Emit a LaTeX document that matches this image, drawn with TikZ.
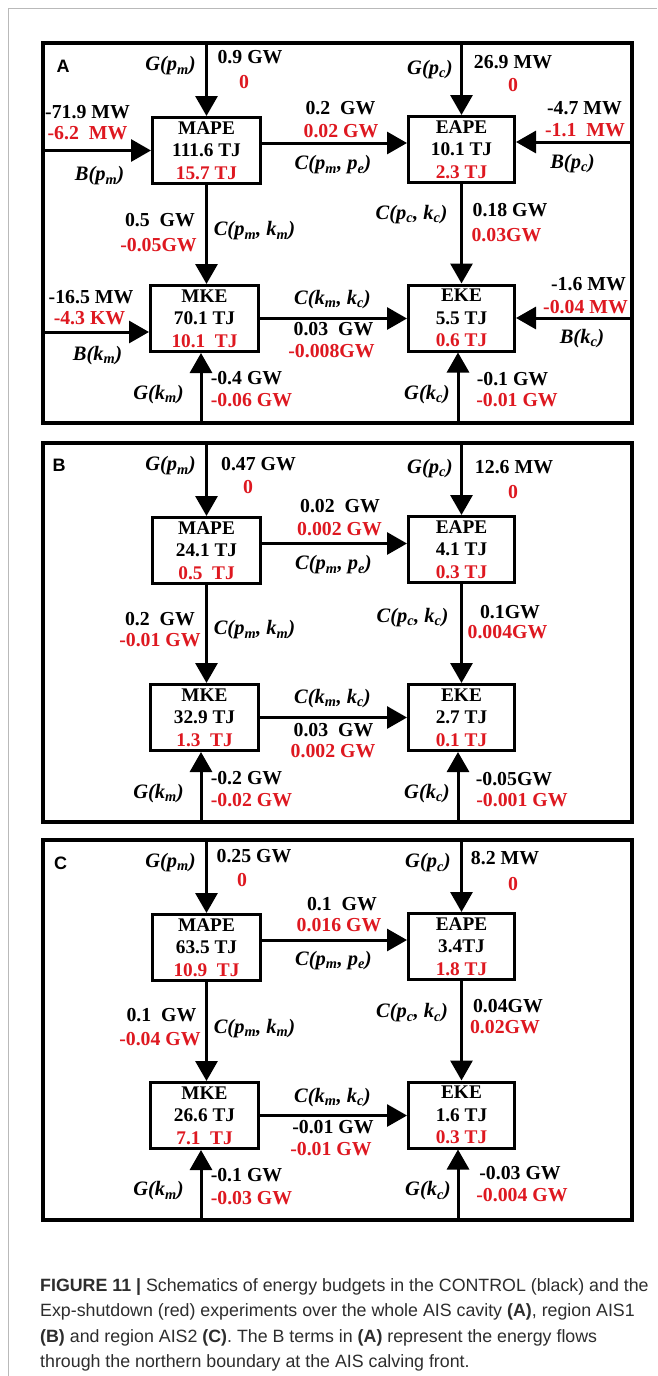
\documentclass[tikz,border=0pt]{standalone}
\usepackage{fontspec}
\setmainfont{Liberation Serif}
\newfontfamily\capsans{Liberation Sans}
\usetikzlibrary{arrows.meta}
\definecolor{myred}{RGB}{222,24,32}
\definecolor{capgray}{RGB}{45,45,45}
\newcommand\sbs[1]{\textsubscript{#1}}
\begin{document}
\begin{tikzpicture}[x=1pt,y=-1pt,
  frame/.style={line width=4pt},
  conn/.style={line width=3pt,-{Triangle[length=20pt,width=22pt]}},
  ebox/.style={draw,line width=3pt,minimum width=108pt,minimum height=66pt,align=center,inner sep=0pt,
     font=\bfseries\fontsize{19.3}{22.5}\selectfont},
  lbl/.style={font=\bfseries\fontsize{19.8}{22}\selectfont,inner sep=0pt},
  rl/.style={lbl,text=myred},
  ital/.style={font=\bfseries\itshape\fontsize{20.5}{22}\selectfont,inner sep=0pt},
  plab/.style={font=\capsans\bfseries\fontsize{18}{20}\selectfont,inner sep=0pt},
  captxt/.style={font=\capsans\fontsize{17.8}{20}\selectfont,text=capgray,inner sep=0pt,anchor=base west}]
\useasboundingbox (0,0) rectangle (657,1376);
\fill[white] (0,0) rectangle (657,1376);
\draw[gray!55,line width=1pt] (8,1376) -- (8,8) -- (657,8);

% ---------------- Panel A ----------------
\begin{scope}[shift={(0,43)}]
\draw[frame] (43,0) rectangle (632,380);
\coordinate (aT) at (43,0);
\coordinate (aB) at (43,380);
\coordinate (aL) at (43,0);
\coordinate (aR) at (632,0);
\node[ebox,minimum width=108pt] (aMAPE) at (206.5,107.5) {MAPE\\111.6 TJ\\\textcolor{myred}{15.7 TJ}};
\node[ebox,minimum width=106pt] (aEAPE) at (461.5,106.5) {EAPE\\10.1 TJ\\\textcolor{myred}{2.3 TJ}};
\node[ebox,minimum width=108pt] (aMKE) at (204.5,275.5) {MKE\\70.1 TJ\\\textcolor{myred}{10.1\ \ TJ}};
\node[ebox,minimum width=106pt] (aEKE) at (461.5,275) {EKE\\5.5 TJ\\\textcolor{myred}{0.6 TJ}};
\coordinate (aEin) at ([yshift=7.5pt]aEAPE.east);
\coordinate (aKin) at ([yshift=-13.5pt]aMKE.west);
\draw[conn] (aMAPE.north |- aT) -- (aMAPE.north);
\draw[conn] (aEAPE.north |- aT) -- (aEAPE.north);
\draw[conn] (aMAPE.south) -- (aMAPE.south |- aMKE.north);
\draw[conn] (aEAPE.south) -- (aEKE.north);
\draw[conn] ([yshift=7.5pt]aMAPE.east) -- ([yshift=7.5pt]aMAPE.east -| aEAPE.west);
\draw[conn] (aMKE.east) -- (aMKE.east -| aEKE.west);
\draw[conn] ([xshift=-3.5pt]aMKE.south |- aB) -- ([xshift=-3.5pt]aMKE.south);
\draw[conn] ([xshift=-3.5pt]aEKE.south |- aB) -- ([xshift=-3.5pt]aEKE.south);
\draw[conn] (aL |- aMAPE.west) -- (aMAPE.west);
\draw[conn] (aR |- aEin) -- (aEin);
\draw[conn] (aL |- aKin) -- (aKin);
\draw[conn] (aR |- aEKE.east) -- (aEKE.east);
\node[plab] (aLab) at (63,23.5) {A};
\node[ital] (aG1) at (170.5,23) {G(p\sbs{m})};
\node[lbl] (aG1v) at (250,14.5) {0.9 GW};
\node[rl] (aG1r) at (244,39) {0};
\node[ital] (aG2) at (430,26.5) {G(p\sbs{c})};
\node[lbl] (aG2v) at (513,19.5) {26.9 MW};
\node[rl] (aG2r) at (513,42) {0};
\node[lbl] (aB1v) at (87.5,69.5) {-71.9 MW};
\node[rl] (aB1r) at (87.5,90.5) {-6.2\ \ MW};
\node[ital] (aB1) at (99.5,133) {B(p\sbs{m})};
\node[lbl] (aB2v) at (584.5,65.5) {-4.7 MW};
\node[rl] (aB2r) at (585,87) {-1.1\ \ MW};
\node[ital] (aB2) at (572.5,120.5) {B(p\sbs{c})};
\node[lbl] (aC1v) at (340.5,65.5) {0.2\ \ GW};
\node[rl] (aC1r) at (341,88.5) {0.02 GW};
\node[ital] (aC1) at (333,122) {C(p\sbs{m}, p\sbs{e})};
\node[lbl] (aC2v) at (160,177) {0.5\ \ GW};
\node[rl] (aC2r) at (158.5,202) {-0.05GW};
\node[ital] (aC2) at (254.5,188) {C(p\sbs{m}, k\sbs{m})};
\node[ital] (aC3) at (411.5,171.5) {C(p\sbs{c}, k\sbs{c})};
\node[lbl] (aC3v) at (510,167.5) {0.18 GW};
\node[rl] (aC3r) at (506.5,192.5) {0.03GW};
\node[lbl] (aB3v) at (91,254.5) {-16.5 MW};
\node[rl] (aB3r) at (89.5,275.5) {-4.3 KW};
\node[ital] (aB3) at (97.5,312.5) {B(k\sbs{m})};
\node[ital] (aC4) at (332.5,256.5) {C(k\sbs{m}, k\sbs{c})};
\node[lbl] (aC4v) at (333.5,286.5) {0.03\ \ GW};
\node[rl] (aC4r) at (331.5,308.5) {-0.008GW};
\node[lbl] (aB4v) at (588.5,241.5) {-1.6 MW};
\node[rl] (aB4r) at (585.5,264.5) {-0.04 MW};
\node[ital] (aB4) at (582,295.5) {B(k\sbs{c})};
\node[ital] (aG3) at (158.5,351.5) {G(k\sbs{m})};
\node[lbl] (aG3v) at (246.5,335.5) {-0.4 GW};
\node[rl] (aG3r) at (251.5,357) {-0.06 GW};
\node[ital] (aG4) at (427,351.5) {G(k\sbs{c})};
\node[lbl] (aG4v) at (512.5,336.5) {-0.1 GW};
\node[rl] (aG4r) at (517,357) {-0.01 GW};
\end{scope}

% ---------------- Panel B ----------------
\begin{scope}[shift={(0,443)}]
\draw[frame] (43,0) rectangle (632,379);
\coordinate (bT) at (43,0);
\coordinate (bB) at (43,379);
\node[ebox,minimum width=108pt] (bMAPE) at (206.5,107.5) {MAPE\\24.1 TJ\\\textcolor{myred}{0.5\ \ TJ}};
\node[ebox,minimum width=106pt] (bEAPE) at (461.5,106.5) {EAPE\\4.1 TJ\\\textcolor{myred}{0.3 TJ}};
\node[ebox,minimum width=108pt] (bMKE) at (204.5,274.5) {MKE\\32.9 TJ\\\textcolor{myred}{1.3\ \ TJ}};
\node[ebox,minimum width=106pt] (bEKE) at (461.5,274.5) {EKE\\2.7 TJ\\\textcolor{myred}{0.1 TJ}};
\draw[conn] (bMAPE.north |- bT) -- (bMAPE.north);
\draw[conn] (bEAPE.north |- bT) -- (bEAPE.north);
\draw[conn] (bMAPE.south) -- (bMAPE.south |- bMKE.north);
\draw[conn] (bEAPE.south) -- (bEKE.north);
\draw[conn] ([yshift=7pt]bMAPE.east) -- ([yshift=7pt]bMAPE.east -| bEAPE.west);
\draw[conn] (bMKE.east) -- (bMKE.east -| bEKE.west);
\draw[conn] ([xshift=-3.5pt]bMKE.south |- bB) -- ([xshift=-3.5pt]bMKE.south);
\draw[conn] ([xshift=-3.5pt]bEKE.south |- bB) -- ([xshift=-3.5pt]bEKE.south);
\node[plab] (bLab) at (59,22) {B};
\node[ital] (bG1) at (170.5,23) {G(p\sbs{m})};
\node[lbl] (bG1v) at (258.5,21.5) {0.47 GW};
\node[rl] (bG1r) at (248,44) {0};
\node[ital] (bG2) at (430,25.5) {G(p\sbs{c})};
\node[lbl] (bG2v) at (514,24.5) {12.6 MW};
\node[rl] (bG2r) at (513,49) {0};
\node[lbl] (bC1v) at (340,63.5) {0.02\ \ GW};
\node[rl] (bC1r) at (339.5,86.5) {0.002 GW};
\node[ital] (bC1) at (333.5,122) {C(p\sbs{m}, p\sbs{e})};
\node[lbl] (bC2v) at (160,176.5) {0.2\ \ GW};
\node[rl] (bC2r) at (160,197.5) {-0.01 GW};
\node[ital] (bC2) at (254.5,187) {C(p\sbs{m}, k\sbs{m})};
\node[ital] (bC3) at (412.5,174.5) {C(p\sbs{c}, k\sbs{c})};
\node[lbl] (bC3v) at (510,169.5) {0.1GW};
\node[rl] (bC3r) at (507.5,189.5) {0.004GW};
\node[ital] (bC4) at (332.5,255.5) {C(k\sbs{m}, k\sbs{c})};
\node[lbl] (bC4v) at (333.5,287) {0.03\ \ GW};
\node[rl] (bC4r) at (333,308.5) {0.002 GW};
\node[ital] (bG3) at (158.5,350.5) {G(k\sbs{m})};
\node[lbl] (bG3v) at (246.5,335.5) {-0.2 GW};
\node[rl] (bG3r) at (251.5,357.5) {-0.02 GW};
\node[ital] (bG4) at (427,350.5) {G(k\sbs{c})};
\node[lbl] (bG4v) at (514,336.5) {-0.05GW};
\node[rl] (bG4r) at (522,357.5) {-0.001 GW};
\end{scope}

% ---------------- Panel C ----------------
\begin{scope}[shift={(0,840)}]
\draw[frame] (43,0) rectangle (632,380);
\coordinate (cT) at (43,0);
\coordinate (cB) at (43,380);
\node[ebox,minimum width=108pt] (cMAPE) at (206.5,107.5) {MAPE\\63.5 TJ\\\textcolor{myred}{10.9\ \ TJ}};
\node[ebox,minimum width=106pt] (cEAPE) at (461.5,106.5) {EAPE\\3.4TJ\\\textcolor{myred}{1.8 TJ}};
\node[ebox,minimum width=108pt] (cMKE) at (204.5,275.5) {MKE\\26.6 TJ\\\textcolor{myred}{7.1\ \ TJ}};
\node[ebox,minimum width=106pt] (cEKE) at (461.5,275) {EKE\\1.6 TJ\\\textcolor{myred}{0.3 TJ}};
\draw[conn] (cMAPE.north |- cT) -- (cMAPE.north);
\draw[conn] (cEAPE.north |- cT) -- (cEAPE.north);
\draw[conn] (cMAPE.south) -- (cMAPE.south |- cMKE.north);
\draw[conn] (cEAPE.south) -- (cEKE.north);
\draw[conn] ([yshift=7.5pt]cMAPE.east) -- ([yshift=7.5pt]cMAPE.east -| cEAPE.west);
\draw[conn] (cMKE.east) -- (cMKE.east -| cEKE.west);
\draw[conn] ([xshift=-3.5pt]cMKE.south |- cB) -- ([xshift=-3.5pt]cMKE.south);
\draw[conn] ([xshift=-3.5pt]cEKE.south |- cB) -- ([xshift=-3.5pt]cEKE.south);
\node[plab] (cLab) at (60.5,23.5) {C};
\node[ital] (cG1) at (170.5,22.5) {G(p\sbs{m})};
\node[lbl] (cG1v) at (254,16.5) {0.25 GW};
\node[rl] (cG1r) at (242,40) {0};
\node[ital] (cG2) at (428,23) {G(p\sbs{c})};
\node[lbl] (cG2v) at (505,18) {8.2 MW};
\node[rl] (cG2r) at (513,44) {0};
\node[lbl] (cC1v) at (342,64.5) {0.1\ \ GW};
\node[rl] (cC1r) at (339,85.5) {0.016 GW};
\node[ital] (cC1) at (333.5,120.5) {C(p\sbs{m}, p\sbs{e})};
\node[lbl] (cC2v) at (161.5,175.5) {0.1\ \ GW};
\node[rl] (cC2r) at (160,199.5) {-0.04 GW};
\node[ital] (cC2) at (254.5,188.5) {C(p\sbs{m}, k\sbs{m})};
\node[ital] (cC3) at (412,173) {C(p\sbs{c}, k\sbs{c})};
\node[lbl] (cC3v) at (508,166) {0.04GW};
\node[rl] (cC3r) at (505,187) {0.02GW};
\node[ital] (cC4) at (332.5,257.5) {C(k\sbs{m}, k\sbs{c})};
\node[lbl] (cC4v) at (333,287.5) {-0.01 GW};
\node[rl] (cC4r) at (331,309.5) {-0.01 GW};
\node[ital] (cG3) at (158.5,351) {G(k\sbs{m})};
\node[lbl] (cG3v) at (246.5,335.5) {-0.1 GW};
\node[rl] (cG3r) at (251.5,358.5) {-0.03 GW};
\node[ital] (cG4) at (428,351) {G(k\sbs{c})};
\node[lbl] (cG4v) at (520,333) {-0.03 GW};
\node[rl] (cG4r) at (522,355) {-0.004 GW};
\end{scope}

% ---------------- Caption ----------------
\node[captxt] (cap1) at (40,1291) {\textbf{FIGURE 11 |} Schematics of energy budgets in the CONTROL (black) and the};
\node[captxt] (cap2) at (40,1316) {Exp-shutdown (red) experiments over the whole AIS cavity \textbf{(A)}, region AIS1};
\node[captxt] (cap3) at (40,1342) {\textbf{(B)} and region AIS2 \textbf{(C)}. The B terms in \textbf{(A)} represent the energy flows};
\node[captxt] (cap4) at (40,1367) {through the northern boundary at the AIS calving front.};
\end{tikzpicture}
\end{document}
